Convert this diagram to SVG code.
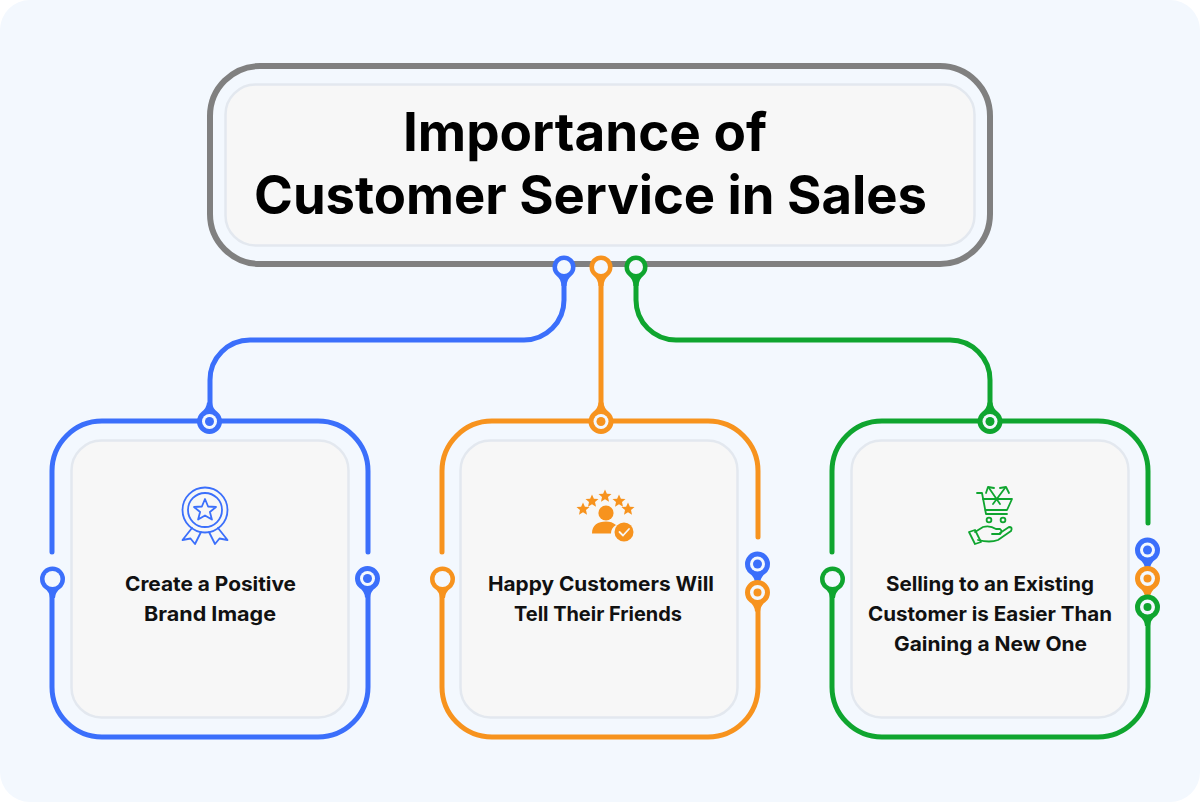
<svg xmlns="http://www.w3.org/2000/svg" xmlns:xlink="http://www.w3.org/1999/xlink" width="1200" height="802" viewBox="0 0 1200 802">
<style>
.title{font-family:"Inter","Liberation Sans",sans-serif;font-weight:700;font-size:53px;fill:#000;text-anchor:middle}
.lab{font-family:"Inter","Liberation Sans",sans-serif;font-weight:700;font-size:20px;fill:#111;text-anchor:middle}
.in{fill:#f7f7f7;stroke:#e3e8ef;stroke-width:2.5}
.ln{fill:none;stroke-width:5;stroke-linecap:round}
.b{stroke:#3b6ffb}.o{stroke:#f7931e}.g{stroke:#0fa52f}
.fb{fill:#3b6ffb}.fo{fill:#f7931e}.fg{fill:#0fa52f}
.hole{fill:#f3f8fe}
.ic{fill:none;stroke-width:1.8;stroke-linejoin:round;stroke-linecap:round}
</style>
<defs>
<path id="pin" d="M-12.500 0A12.500 12.500 0 1 1 12.500 0A12.500 12.500 0 0 1 8 9.600Q3 13 2.500 19H-2.500Q-3 13-8 9.600A12.500 12.500 0 0 1-12.500 0Z"/>
<path id="pinS" d="M-11.500 0A11.500 11.500 0 1 1 11.500 0A11.500 11.500 0 0 1 7.500 8.700Q3 12 2.500 19H-2.500Q-3 12-7.500 8.700A11.500 11.500 0 0 1-11.500 0Z"/>
<polygon id="star" points="0,-6.500 1.900,-2.300 6.500,-1.900 3,1.100 4,5.700 0,3.300 -4,5.700 -3,1.100 -6.500,-1.900 -1.900,-2.300"/>
</defs>
<rect width="1200" height="802" fill="#fff"/>
<rect width="1200" height="802" rx="30" fill="#f3f8fe"/>

<g id="connectors">
<path class="ln b" d="M564 275V300A40 40 0 0 1 524 340H250A40 40 0 0 0 210 380V415"/>
<path class="ln o" d="M601 275V415"/>
<path class="ln g" d="M636 275V300A40 40 0 0 0 676 340H950A40 40 0 0 1 990 380V415"/>
</g>

<g id="title-node">
<rect x="210" y="66" width="780" height="198" rx="50" fill="none" stroke="#808080" stroke-width="6"/>
<rect class="in" x="225.500" y="84.500" width="749" height="161" rx="30"/>
<text class="title" x="585" y="151">Importance of</text>
<text class="title" x="590.500" y="214" textLength="673" lengthAdjust="spacingAndGlyphs">Customer Service in Sales</text>
</g>

<g id="title-pins">
<use href="#pinS" x="564" y="267" class="fb"/><circle cx="564" cy="267" r="7" class="hole"/>
<use href="#pinS" x="601" y="267" class="fo"/><circle cx="601" cy="267" r="7" class="hole"/>
<use href="#pinS" x="636" y="267" class="fg"/><circle cx="636" cy="267" r="7" class="hole"/>
</g>

<g id="card-1">
<path class="ln b" d="M52 552V471A50 50 0 0 1 102 421H318A50 50 0 0 1 368 471V552"/>
<path class="ln b" d="M52 590V687A50 50 0 0 0 102 737H318A50 50 0 0 0 368 687V590"/>
<rect class="in" x="71.500" y="440.500" width="277" height="277" rx="30"/>
<use href="#pin" transform="translate(209.500 421.500) rotate(180)" class="fb"/>
<circle cx="209.500" cy="421.500" r="7.500" class="hole"/><circle cx="209.500" cy="421.500" r="4.500" class="fb"/>
<use href="#pin" x="52.500" y="579" class="fb"/><circle cx="52.500" cy="579" r="8" class="hole"/>
<use href="#pin" x="367.500" y="578.500" class="fb"/>
<circle cx="367.500" cy="578.500" r="7.500" class="hole"/><circle cx="367.500" cy="578.500" r="4.500" class="fb"/>
<g class="ic b" transform="translate(205 510)">
<circle r="22.500"/><circle r="17"/>
<path d="M0-11L3.100-3.500L11-3L4.900 2L6.900 9.600L0 5.400L-6.900 9.600L-4.900 2L-11-3L-3.100-3.500Z"/>
<path d="M-13 18L-22.500 30L-14.500 28.500L-10 34L-4 22"/>
<path d="M13 18L22.500 30L14.500 28.500L10 34L4 22"/>
</g>
<text class="lab" x="210.500" y="591" textLength="171" lengthAdjust="spacingAndGlyphs">Create a Positive</text>
<text class="lab" x="210" y="621" textLength="132" lengthAdjust="spacingAndGlyphs">Brand Image</text>
</g>

<g id="card-2">
<path class="ln o" d="M442 552V471A50 50 0 0 1 492 421H708A50 50 0 0 1 758 471V537"/>
<path class="ln o" d="M442 590V687A50 50 0 0 0 492 737H708A50 50 0 0 0 758 687V604"/>
<rect class="in" x="460.500" y="440.500" width="277" height="277" rx="30"/>
<use href="#pin" transform="translate(601 421.500) rotate(180)" class="fo"/>
<circle cx="601" cy="421.500" r="7.500" class="hole"/><circle cx="601" cy="421.500" r="4.500" class="fo"/>
<use href="#pin" x="442.500" y="579" class="fo"/><circle cx="442.500" cy="579" r="8" class="hole"/>
<use href="#pin" x="757.500" y="564" class="fb"/>
<circle cx="757.500" cy="564" r="7.500" class="hole"/><circle cx="757.500" cy="564" r="4.500" class="fb"/>
<use href="#pin" x="757.500" y="592.500" class="fo"/>
<circle cx="757.500" cy="592.500" r="7.500" class="hole"/><circle cx="757.500" cy="592.500" r="4" class="fo"/>
<g class="fo">
<circle cx="606" cy="513" r="7.600"/>
<path d="M592 533.500C592 525 598 521.500 606 521.500C610 521.500 613 522.500 616 525C612.500 527 611 530 611 533.500Z"/>
<circle cx="624" cy="532" r="9.500"/>
<use href="#star" x="583" y="509"/>
<use href="#star" x="592" y="501"/>
<use href="#star" x="605" y="496"/>
<use href="#star" x="619" y="501"/>
<use href="#star" x="628" y="509"/>
</g>
<path d="M619.500 532L623 535.500L629 529" fill="none" stroke="#f7f7f7" stroke-width="1.800" stroke-linecap="round" stroke-linejoin="round"/>
<text class="lab" x="601" y="591" textLength="226" lengthAdjust="spacingAndGlyphs">Happy Customers Will</text>
<text class="lab" x="598" y="621" textLength="168" lengthAdjust="spacingAndGlyphs">Tell Their Friends</text>
</g>

<g id="card-3">
<path class="ln g" d="M832 552V471A50 50 0 0 1 882 421H1098A50 50 0 0 1 1148 471V523"/>
<path class="ln g" d="M832 590V687A50 50 0 0 0 882 737H1098A50 50 0 0 0 1148 687V618"/>
<rect class="in" x="851.500" y="440.500" width="277" height="277" rx="30"/>
<use href="#pin" transform="translate(990 421.500) rotate(180)" class="fg"/>
<circle cx="990" cy="421.500" r="7.500" class="hole"/><circle cx="990" cy="421.500" r="4.500" class="fg"/>
<use href="#pin" x="832.500" y="579" class="fg"/><circle cx="832.500" cy="579" r="8" class="hole"/>
<use href="#pin" x="1147.500" y="550" class="fb"/>
<circle cx="1147.500" cy="550" r="7.500" class="hole"/><circle cx="1147.500" cy="550" r="4.500" class="fb"/>
<use href="#pin" x="1147.500" y="578.500" class="fo"/>
<circle cx="1147.500" cy="578.500" r="7.500" class="hole"/><circle cx="1147.500" cy="578.500" r="4" class="fo"/>
<use href="#pin" x="1147.500" y="607" class="fg"/>
<circle cx="1147.500" cy="607" r="7.500" class="hole"/><circle cx="1147.500" cy="607" r="4" class="fg"/>
<g class="ic g">
<path d="M977 493H982L986 514H1007"/>
<path d="M983 499H1012L1007 510H985.500"/>
<circle cx="989" cy="520" r="2.400"/><circle cx="1003" cy="520" r="2.400"/>
<path d="M989 488L1000 504M1005 488L993 504"/>
<path d="M986 493L988 487L994 488M1009 493L1006 487L1000 488"/>
<path d="M975 532L983 527Q990 525 996 529H1000Q1003 531 1000 534H992"/>
<path d="M1000 533L1009 527Q1013 527 1011 531L998 540Q990 543 978 540"/>
<path d="M969 532L975 530L981 542L975 544Z"/>
</g>
<text class="lab" x="990" y="591" textLength="208" lengthAdjust="spacingAndGlyphs">Selling to an Existing</text>
<text class="lab" x="990" y="621" textLength="244" lengthAdjust="spacingAndGlyphs">Customer is Easier Than</text>
<text class="lab" x="990.500" y="651" textLength="193" lengthAdjust="spacingAndGlyphs">Gaining a New One</text>
</g>
</svg>
